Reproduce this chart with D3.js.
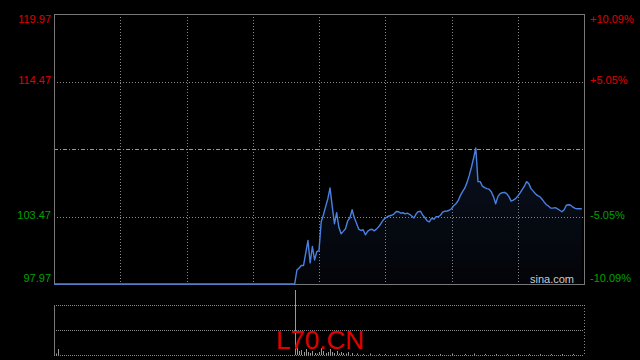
<!DOCTYPE html>
<html><head><meta charset="utf-8">
<script src="https://cdn.jsdelivr.net/npm/d3@7"></script>
<style>body{margin:0;background:#000;} svg{display:block;}</style>
</head><body><svg id="c" width="640" height="360"></svg>
<script>
const prevClose = 108.97;
const priceTicks = [97.97, 103.47, 108.97, 114.47, 119.97];
const priceLabels = ["97.97", "103.47", "", "114.47", "119.97"];
const pctLabels = ["-10.09%", "-5.05%", "", "+5.05%", "+10.09%"];
const timeTicks = [0, 30, 60, 90, 120, 150, 180, 210, 240];
const minutes = [0,109,110,111,112,113,114,115,116,117,118,119,120,121,122,123,124,125,126,127,128,129,130,
  131,132,133,134,135,136,137,138,139,140,141,142,143,144,145,146,147,148,149,150,151,152,153,154,155,156,157,
  158,159,160,161,162,163,164,165,166,167,168,169,170,171,172,173,174,175,176,177,178,179,180,181,182,183,184,
  185,186,187,188,189,190,191,192,193,194,195,196,197,198,199,200,201,202,203,204,205,206,207,208,209,210,211,
  212,213,214,215,216,217,218,219,220,221,222,223,224,225,226,227,228,229,230,231,232,233,234,235,236,237,238,239];
const prices = [97.97,97.97,99.11,99.28,99.48,99.48,100.51,101.51,99.69,101.02,99.93,100.61,100.69,103.04,103.61,
  104.27,104.92,105.80,104.27,102.88,103.78,102.59,102.06,102.26,102.47,103.12,103.37,104.02,103.37,102.92,102.44,
  102.33,102.39,101.98,102.26,102.39,102.43,102.30,102.44,102.63,102.88,103.16,103.34,103.45,103.53,103.57,103.69,
  103.88,103.86,103.74,103.78,103.68,103.74,103.65,103.51,103.35,103.69,103.87,103.90,103.57,103.37,103.12,103.04,
  103.33,103.25,103.45,103.45,103.57,103.82,103.90,103.92,103.98,104.10,104.35,104.51,104.76,105.17,105.49,105.78,
  106.23,106.80,107.46,108.23,109.05,106.31,106.31,105.94,105.82,105.74,105.70,105.49,105.09,104.51,105.09,105.33,
  105.41,105.44,105.33,105.09,104.72,104.80,104.92,105.13,105.37,105.66,105.94,106.31,106.15,105.74,105.54,105.33,
  105.17,105.09,104.88,104.64,104.43,104.31,104.15,104.15,104.19,104.10,103.98,103.86,104.02,104.39,104.43,104.39,
  104.23,104.13,104.10,104.10,104.10];
const volMinutes = [1,2,109,110,111,112,113,114,115,116,117,118,119,120,121,122,123,124,125,126,127,128,129,130,
  131,132,133,135,137,140,143,147,150,155,160,165,170,175,180,186,190,195,200,205,210,215,220,225,230,235];
const volumes = [3,12,130,14,8,10,6,12,6,4,8,4,3,6,14,8,4,6,12,6,4,8,3,6,4,3,6,4,3,2,3,2,2,2,2,2,2,2,3,2,3,2,2,2,2,2,2,2,2,2];

const svg = d3.select("#c");
const L = 54, R = 584, T = 14, B = 284;
const VT = 305, VB = 355;
const x = d3.scaleLinear().domain([0, 240]).range([L, R]);
const y = d3.scaleLinear().domain([97.97, 119.97]).range([B, T]);
const yv = d3.scaleLinear().domain([0, 100]).range([VB, VT]);

const defs = svg.append("defs");
const grad = defs.append("linearGradient").attr("id", "g").attr("gradientUnits", "userSpaceOnUse")
  .attr("x1", 0).attr("x2", 0).attr("y1", y(109)).attr("y2", B);
grad.append("stop").attr("offset", 0).attr("stop-color", "#3a66c0").attr("stop-opacity", 0.16);
grad.append("stop").attr("offset", 1).attr("stop-color", "#3a66c0").attr("stop-opacity", 0.04);

// horizontal grid
priceTicks.forEach((p, i) => {
  if (i === 0 || i === priceTicks.length - 1) return;
  svg.append("line").attr("x1", L).attr("x2", R).attr("y1", Math.round(y(p)) + 0.5).attr("y2", Math.round(y(p)) + 0.5)
    .attr("stroke", p === prevClose ? "#999" : "#888").attr("stroke-width", 1)
    .attr("stroke-dasharray", p === prevClose ? "4,2,1,2" : "1,2");
});
// vertical grid
timeTicks.slice(1, -1).forEach(t => {
  svg.append("line").attr("x1", Math.round(x(t)) + 0.5).attr("x2", Math.round(x(t)) + 0.5).attr("y1", T).attr("y2", B)
    .attr("stroke", "#888").attr("stroke-dasharray", "1,2");
});

// area + line
const pts = minutes.map((m, i) => [m, prices[i]]);
svg.append("path").datum(pts).attr("fill", "url(#g)")
  .attr("d", d3.area().x(d => x(d[0])).y0(B).y1(d => y(d[1])));
// frame
svg.append("rect").attr("x", L + 0.5).attr("y", T + 0.5).attr("width", R - L).attr("height", B - T)
  .attr("fill", "none").attr("stroke", "#777");
svg.append("path").datum(pts).attr("fill", "none").attr("stroke", "#4a80e0").attr("stroke-width", 1.4)
  .attr("stroke-linejoin", "round")
  .attr("d", d3.line().x(d => x(d[0])).y(d => y(d[1])));

// labels
priceTicks.forEach((p, i) => {
  if (!priceLabels[i]) return;
  const col = p > prevClose ? "#e00000" : "#00a000";
  const base = i === priceTicks.length - 1 ? "hanging" : (i === 0 ? "auto" : "middle");
  const yy = i === priceTicks.length - 1 ? T + 1 : (i === 0 ? B - 2 : y(p));
  svg.append("text").attr("x", 51).attr("y", yy).attr("text-anchor", "end").attr("dominant-baseline", base)
    .attr("font-family", "Liberation Sans, Arial, sans-serif").attr("font-size", 11).attr("fill", col).text(priceLabels[i]);
  svg.append("text").attr("x", 590).attr("y", yy).attr("text-anchor", "start").attr("dominant-baseline", base)
    .attr("font-family", "Liberation Sans, Arial, sans-serif").attr("font-size", 11).attr("fill", col).text(pctLabels[i]);
});

svg.append("text").attr("x", 574).attr("y", 283).attr("text-anchor", "end")
  .attr("font-family", "Liberation Sans, Arial, sans-serif").attr("font-size", 11).attr("fill", "#ccc").text("sina.com");

// volume panel
[VT, (VT + VB) / 2, VB].forEach(v => {
  svg.append("line").attr("x1", L).attr("x2", R).attr("y1", v + 0.5).attr("y2", v + 0.5)
    .attr("stroke", "#888").attr("stroke-dasharray", "1,1");
});
svg.append("line").attr("x1", L + 0.5).attr("x2", L + 0.5).attr("y1", VT).attr("y2", VB).attr("stroke", "#777");
svg.append("line").attr("x1", R + 0.5).attr("x2", R + 0.5).attr("y1", VT).attr("y2", VB).attr("stroke", "#888").attr("stroke-dasharray", "1,2");
svg.selectAll("line.vol").data(volMinutes).enter().append("line").attr("class", "vol")
  .attr("x1", d => Math.round(x(d)) + 0.5).attr("x2", d => Math.round(x(d)) + 0.5)
  .attr("y1", VB).attr("y2", (d, i) => yv(volumes[i])).attr("stroke", "#999");

svg.append("text").attr("x", 320).attr("y", 349).attr("text-anchor", "middle")
  .attr("font-family", "Liberation Sans, Arial, sans-serif").attr("font-size", 26).attr("fill", "#e00000").text("L70.CN");
</script></body></html>
